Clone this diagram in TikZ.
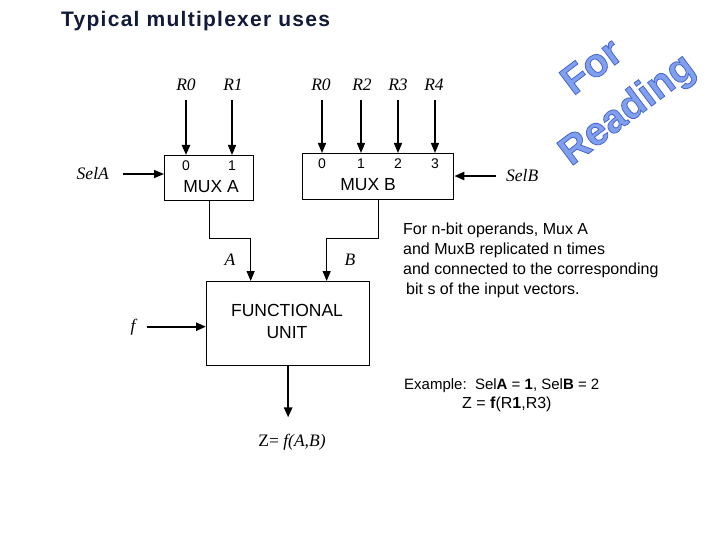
\documentclass[tikz,border=0pt]{standalone}
\usepackage{fontspec}
\setmainfont{Liberation Serif}
\setsansfont{Liberation Sans}
\usepackage{tikz}
\usetikzlibrary{
    positioning,
    arrows.meta
}
\definecolor{TitleNavy}{RGB}{18,26,58}
\definecolor{WaterBlue}{RGB}{128,160,238}

\begin{document}
\begin{tikzpicture}[x=1pt, y=-1pt,
    box/.style={rectangle, draw, line width=1.3pt, inner sep=0pt, anchor=north west},
    reg/.style={font=\fontsize{17.5}{20}\selectfont\itshape, inner sep=1pt},
    pin/.style={font=\sffamily\fontsize{14}{16}\selectfont, inner sep=0pt},
    unit/.style={font=\sffamily\fontsize{17.5}{22}\selectfont, align=center, inner sep=0pt},
    note/.style={font=\sffamily\fontsize{16}{19.8}\selectfont, align=left, inner sep=0pt, anchor=north west},
    wmark/.style={font=\sffamily\bfseries\fontsize{40}{42}\selectfont, text=WaterBlue, rotate=37, inner sep=0pt},
    arrow/.style={line width=1.3pt, -{Triangle[length=10pt,width=8pt]}},
    thickarrow/.style={arrow, line width=2.4pt}
]
\useasboundingbox[fill=white] (0,0) rectangle (720,540);

\node[anchor=base west, inner sep=0pt, text=TitleNavy,
      font=\sffamily\bfseries\fontsize{21}{24}\selectfont\addfontfeature{LetterSpace=6}] (title) at (61,27) {Typical multiplexer uses};

% watermark
\node[wmark] (wfor) at (591,66) {\special{pdf:literal direct 2 Tr 0.8 w 0.28 0.40 0.82 RG}For};
\node[wmark] (wread) at (628,111) {\special{pdf:literal direct 2 Tr 0.8 w 0.28 0.40 0.82 RG}Reading};

% blocks
\node[box, minimum width=89pt, minimum height=45pt] (muxa) at (164,155) {};
\node[box, minimum width=151pt, minimum height=46pt] (muxb) at (302,153) {};
\node[box, minimum width=163pt, minimum height=84pt] (fu) at (206,281) {};

\node[unit] (muxaname) at (211,187) {MUX A};
\node[unit] (muxbname) at (368,185) {MUX B};
\node[unit] (funame) at (287,321) {FUNCTIONAL\\UNIT};

% input numbers
\node[pin] (pa0) at (186,166) {0};
\node[pin] (pa1) at (232,166) {1};
\node[pin] (pb0) at (322,164) {0};
\node[pin] (pb1) at (361,164) {1};
\node[pin] (pb2) at (398,164) {2};
\node[pin] (pb3) at (435,164) {3};

% register labels
\node[reg, anchor=base] (ra0) at (186,91) {R0};
\node[reg, anchor=base] (ra1) at (233,91) {R1};
\node[reg, anchor=base] (rb0) at (321,91) {R0};
\node[reg, anchor=base] (rb2) at (362,91) {R2};
\node[reg, anchor=base] (rb3) at (398,91) {R3};
\node[reg, anchor=base] (rb4) at (434,91) {R4};

\draw[thickarrow, shorten <=8pt] (ra0.south -| pa0) -- (pa0 |- muxa.north);
\draw[arrow, shorten <=8pt] (ra1.south -| pa1) -- (pa1 |- muxa.north);
\draw[arrow, shorten <=8pt] (rb0.south -| pb0) -- (pb0 |- muxb.north);
\draw[arrow, shorten <=8pt] (rb2.south -| pb1) -- (pb1 |- muxb.north);
\draw[arrow, shorten <=8pt] (rb3.south -| pb2) -- (pb2 |- muxb.north);
\draw[arrow, shorten <=8pt] (rb4.south -| pb3) -- (pb3 |- muxb.north);

% select lines
\node[reg, anchor=base east] (sela) at (110,180) {SelA};
\node[reg, anchor=base west] (selb) at (505,182) {SelB};
\node[reg, anchor=base] (fsel) at (133,331) {f};

\draw[arrow, shorten <=13pt] (sela.east) -- (sela.east -| muxa.west);
\draw[thickarrow, shorten <=9pt] (selb.west) -- (selb.west -| muxb.east);
\draw[thickarrow, shorten <=10pt] (fsel.east) -- (fsel.east -| fu.west);

% operands
\draw[arrow] (muxa.south) -- ++(0,37) -| ([xshift=-37.5pt]fu.north);
\draw[arrow] (muxb.south) -- ++(0,38) -| ([xshift=38.5pt]fu.north);
\node[reg] (lbla) at (230,260) {A};
\node[reg] (lblb) at (350,260) {B};

% result
\node[reg, anchor=base] (zout) at (292,446) {\upshape Z= \itshape f(A,B)};
\draw[thickarrow, shorten >=15pt] (fu.south) -- (fu.south |- zout.north);

% notes
\node[note] (notes) at (403,223) {For n-bit operands, Mux A\\and MuxB replicated n times\\and connected to the corresponding\\\hspace{3pt}bit s of the input vectors.};
\node[note] (example) at (404,378) {\fontsize{15}{19.8}\selectfont Example:\ \ Sel\textbf{A} = \textbf{1}, Sel\textbf{B} = 2\\\hspace{58pt}Z = \textbf{f}(R\textbf{1},R3)};
\end{tikzpicture}
\end{document}
